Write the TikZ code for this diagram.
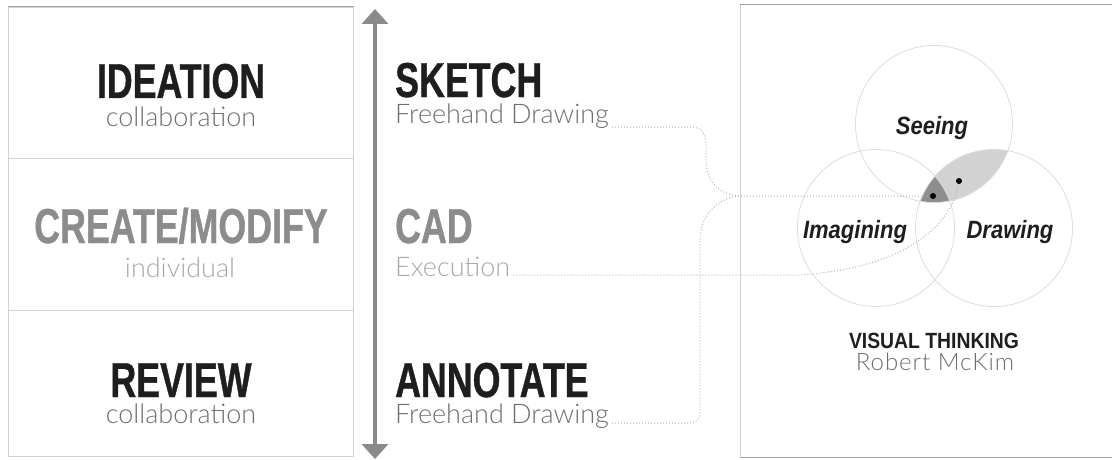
\documentclass[tikz,border=0pt]{standalone}
\usepackage{fontspec}
\usetikzlibrary{arrows.meta,calc}

% condensed bold for the headings, a wider cut for the small labels
\newfontfamily\headfont{Liberation Sans}[FakeStretch=0.73,FakeBold=0.8]
\newfontfamily\labelfont{Liberation Sans}[FakeStretch=0.88]
\newfontfamily\lightfont{Lato Light}
\newfontfamily\authorfont{Lato Light}[LetterSpace=4]

\definecolor{inkdark}{HTML}{1E1E1E}
\definecolor{inkgray}{HTML}{8C8C8C}
\definecolor{subgray}{HTML}{6E6E6E}
\definecolor{subpale}{HTML}{A8A8A8}
\definecolor{rulegray}{HTML}{D2D2D2}
\definecolor{rulegrayd}{HTML}{A0A0A0}
\definecolor{dotgray}{HTML}{B4B4B4}
\definecolor{ringgray}{HTML}{DCDCDC}
\definecolor{lensgray}{HTML}{D2D2D2}
\definecolor{coregray}{HTML}{8E8E8E}
\definecolor{arrowgray}{HTML}{8A8A8A}

\tikzset{
  head/.style={inner sep=0, text=inkdark, text height=35, text depth=0,
    font=\headfont\bfseries\fontsize{49}{49}\selectfont},
  headpale/.style={head, text=inkgray},
  sub/.style={inner sep=0, text=subgray, text height=19, text depth=5,
    font=\lightfont\fontsize{27}{27}\selectfont},
  subpale/.style={sub, text=subpale},
  vlabel/.style={inner sep=0, text=inkdark, text height=18, text depth=5,
    font=\labelfont\bfseries\itshape\fontsize{25}{25}\selectfont},
  title/.style={inner sep=0, text=inkdark, text height=16, text depth=0,
    font=\labelfont\bfseries\fontsize{22}{22}\selectfont},
  author/.style={inner sep=0, text=subgray, text height=17, text depth=0,
    font=\authorfont\fontsize{24}{24}\selectfont},
  row/.style={draw=rulegray, line width=0.8pt, inner sep=0,
    minimum width=345, anchor=north west},
  toprule/.style={draw=rulegrayd, line width=1pt},
  sideline/.style={draw=rulegray, line width=0.8pt},
  timeline/.style={draw=arrowgray, line width=3.5pt,
    {Triangle[width=26pt,length=15pt]}-{Triangle[width=26pt,length=15pt]}},
  link/.style={draw=dotgray, line width=1pt, dotted},
  ring/.style={draw=ringgray, line width=0.8pt},
  marker/.style={circle, fill=black, inner sep=0, minimum size=6},
}

\begin{document}
\begin{tikzpicture}[x=1pt,y=-1pt]
\useasboundingbox (0,0) rectangle (1112,460);

% ---- activity table -------------------------------------------------
\node[row, minimum height=151] (row1) at (8,7) {};
\node[row, minimum height=152] (row2) at (8,158) {};
\node[row, minimum height=146] (row3) at (8,310) {};
\draw[toprule] (row1.north west) -- (row1.north east);

\node[head, anchor=base] (ideation) at (181,98) {IDEATION};
\node[sub, anchor=base] (ideasub) at (181,126) {collaboration};
\node[headpale, anchor=base] (create) at (181,243) {CREATE/MODIFY};
\node[subpale, anchor=base] (createsub) at (180,277) {individual};
\node[head, anchor=base] (review) at (181,397) {REVIEW};
\node[sub, anchor=base] (reviewsub) at (181,423) {collaboration};

% ---- timeline ---------------------------------------------------------
\coordinate (arrtop) at (375,9);
\coordinate (arrbot) at (375,459);
\draw[timeline] (arrtop) -- (arrbot);

% ---- tools ------------------------------------------------------------
\node[head, anchor=base west] (sketch) at (395,97) {SKETCH};
\node[sub, anchor=base west] (fdtop) at (395,123) {Freehand Drawing};
\node[headpale, anchor=base west] (cad) at (395,243) {CAD};
\node[subpale, anchor=base west] (exec) at (395,276) {Execution};
\node[head, anchor=base west] (annotate) at (395,397) {ANNOTATE};
\node[sub, anchor=base west] (fdbot) at (395,423) {Freehand Drawing};

% ---- visual thinking panel, open on the right --------------------------
\coordinate (pTL) at (740,5);
\coordinate (pBL) at (740,457);
\draw[toprule] (pTL) -- ++(372,0);
\draw[sideline] (pTL) -- (pBL);
\draw[toprule] (pBL) -- ++(372,0);

\coordinate (cS) at (934,124);
\coordinate (cI) at (876,228);
\coordinate (cD) at (994,228);

\begin{scope}
  \clip (cS) circle[radius=78.5];
  \fill[lensgray] (cD) circle[radius=78.5];
  \clip (cD) circle[radius=78.5];
  \fill[coregray] (cI) circle[radius=78.5];
\end{scope}
\draw[ring] (cS) circle[radius=78.5];
\draw[ring] (cI) circle[radius=78.5];
\draw[ring] (cD) circle[radius=78.5];

\node[vlabel, anchor=base] (seeing) at (932,135) {Seeing};
\node[vlabel, anchor=base] (imagining) at (855,238) {Imagining};
\node[vlabel, anchor=base] (drawing) at (1010,238) {Drawing};

\node[marker] (dotA) at (933,196) {};
\node[marker] (dotB) at (959,181) {};

\node[title, anchor=base] (vt) at (934,348) {VISUAL THINKING};
\node[author, anchor=base] (mckim) at (935,370) {Robert McKim};

% ---- links from the tools into the diagram ----------------------------
\coordinate (merge) at (742,196);
\draw[link] ($(fdtop.base east)+(3,4)$) -- (690,127)
  .. controls (702,127) and (706,133) .. (706,146) -- (706,160)
  .. controls (706,184) and (722,196) .. (merge) -- (dotA);
\draw[link] ($(fdbot.base east)+(3,0)$) -- (688,423)
  .. controls (697,423) and (700,419) .. (700,410) -- (700,240)
  .. controls (700,214) and (720,196) .. (merge);
\draw[link] ($(exec.base east)+(3,-1)$) -- (800,275)
  .. controls (900,268) and (950,230) .. (dotB);
\end{tikzpicture}
\end{document}
